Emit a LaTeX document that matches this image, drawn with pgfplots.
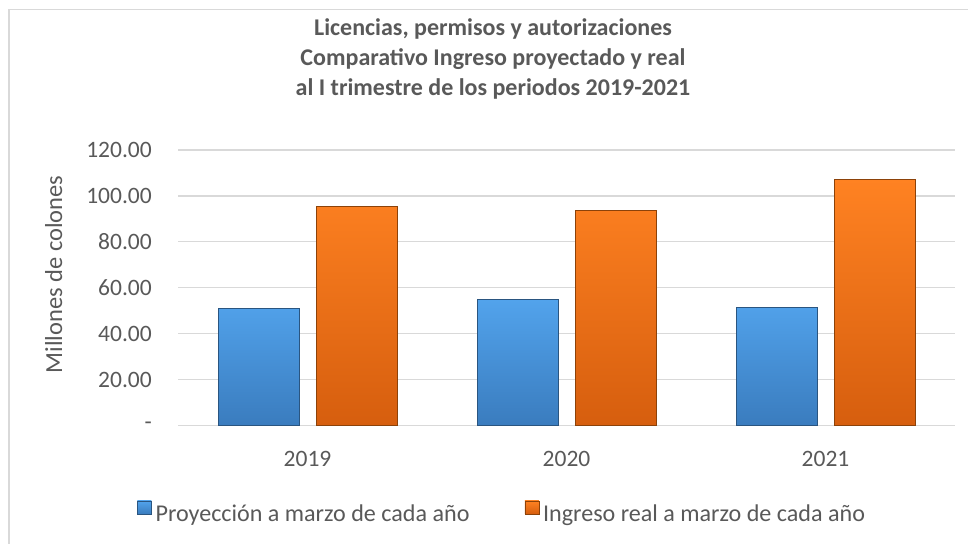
\documentclass[border=0pt]{standalone}
\usepackage{fontspec}
\setmainfont{Carlito}
\usepackage{pgfplots}
\pgfplotsset{compat=1.18}
\definecolor{txt}{HTML}{595959}
\definecolor{gridc}{HTML}{D9D9D9}
\definecolor{blueT}{HTML}{52A3EC}
\definecolor{blueB}{HTML}{3A7CBE}
\definecolor{blueE}{HTML}{2A5580}
\definecolor{oraT}{HTML}{FF8222}
\definecolor{oraB}{HTML}{D65E0E}
\definecolor{oraE}{HTML}{8C4209}
\newcommand{\lbl}{\fontsize{23.5bp}{28bp}\selectfont}
\newcommand{\leg}{\fontsize{24.1bp}{28bp}\selectfont}
\pgfplotsset{
  sqlegend/.style n args={3}{legend image code/.code={%
    \draw[draw=#3, top color=#1, bottom color=#2, line width=0.6bp] (0bp,0bp) rectangle (14bp,13bp);}},
}

\begin{document}
\begin{tikzpicture}
\useasboundingbox (0,0) rectangle (968bp,544bp);
\draw[gridc, line width=1.5bp] (9bp,0) -- (9bp,534.5bp) -- (968bp,534.5bp);
\begin{axis}[at={(178bp,118.5bp)}, anchor=south west,
  scale only axis, width=777bp, height=275.5bp,
  ybar=17bp, bar width=81bp,
  xmin=-0.5, xmax=2.5, ymin=0, ymax=120,
  xtick={0,1,2}, xticklabels={2019,2020,2021},
  ytick={0,20,...,120},
  yticklabels={{-\hspace{12bp}},20.00,40.00,60.00,80.00,100.00,120.00},
  major tick length=0pt,
  axis line style={draw=none},
  ymajorgrids, grid style={gridc, line width=1.3bp},
  tick label style={font=\lbl, text=txt, inner sep=0pt},
  yticklabel style={anchor=east, xshift=-26bp},
  xticklabel style={anchor=base, yshift=-40.5bp},
  legend columns=2,
  legend style={at={(-0.0528,-0.3539)}, anchor=south west, draw=none, fill=none,
    inner sep=0pt, outer sep=0pt, font=\leg, text=txt,
    nodes={inner sep=0pt},
    /tikz/every odd column/.append style={column sep=4bp},
    /tikz/every even column/.append style={column sep=55bp}},
]
\addplot[draw=blueE, line width=0.8bp, top color=blueT, bottom color=blueB,
  sqlegend={blueT}{blueB}{blueE}]
  coordinates {(0,50.9) (1,54.9) (2,51.4)};
\addlegendentry{Proyección a marzo de cada año}
\addplot[draw=oraE, line width=0.8bp, top color=oraT, bottom color=oraB,
  sqlegend={oraT}{oraB}{oraE}]
  coordinates {(0,95.4) (1,93.6) (2,107.3)};
\addlegendentry{Ingreso real a marzo de cada año}
\end{axis}
\begin{scope}[every node/.style={anchor=base, text=txt, font=\bfseries\fontsize{24bp}{30bp}\selectfont, inner sep=0pt}]
\node at (493bp,508bp) {Licencias, permisos y autorizaciones};
\node at (493bp,478bp) {Comparativo Ingreso proyectado y real};
\node at (493bp,448bp) {al I trimestre de los periodos 2019-2021};
\end{scope}
\node[rotate=90, anchor=base, text=txt, font=\fontsize{24.5bp}{28bp}\selectfont, inner sep=0pt] at (62bp,269.5bp) {Millones de colones};
\end{tikzpicture}
\end{document}
